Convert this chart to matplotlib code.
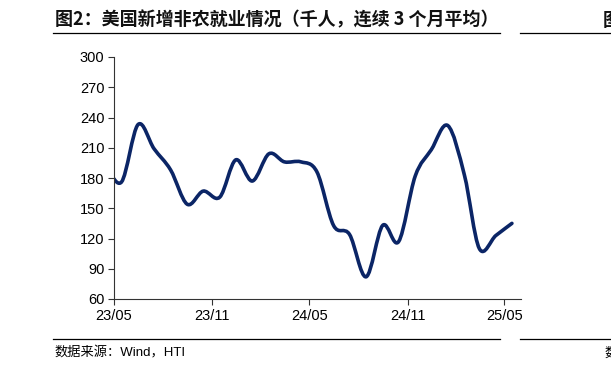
import matplotlib
matplotlib.use("Agg")
import matplotlib.pyplot as plt
import matplotlib.dates as mdates
from matplotlib.path import Path
from matplotlib.patches import PathPatch
from matplotlib.lines import Line2D
import numpy as np
import pandas as pd

plt.rcParams['font.family'] = ['Liberation Sans', 'Noto Sans CJK SC', 'DejaVu Sans']

# monthly 3-month average of nonfarm payrolls (thousands), 2023/04 .. 2025/05
months = ["2023-04", "2023-05", "2023-06", "2023-07", "2023-08", "2023-09", "2023-10",
          "2023-11", "2023-12", "2024-01", "2024-02", "2024-03", "2024-04", "2024-05",
          "2024-06", "2024-07", "2024-08", "2024-09", "2024-10", "2024-11", "2024-12",
          "2025-01", "2025-02", "2025-03", "2025-04", "2025-05"]
payrolls = [194, 176, 233, 209, 188, 154, 167, 161, 198, 177, 204, 196, 196, 186,
            133, 124, 82, 133, 117, 182, 208, 232, 183, 110, 123, 135]
tick_months = ["2023-05", "2023-11", "2024-05", "2024-11", "2025-05"]
y_ticks = [60, 90, 120, 150, 180, 210, 240, 270, 300]

title = "图2：美国新增非农就业情况（千人，连续 3 个月平均）"
source = "数据来源：Wind，HTI"
navy = "#0b2566"


def smooth_path(x, y):
    # Catmull-Rom spline written as cubic bezier segments (like Excel smoothed lines)
    x = np.asarray(x, float)
    y = np.asarray(y, float)
    verts = [(x[0], y[0])]
    codes = [Path.MOVETO]
    n = len(x)
    for i in range(n - 1):
        x0, y0 = (x[i - 1], y[i - 1]) if i > 0 else (x[i], y[i])
        x3, y3 = (x[i + 2], y[i + 2]) if i + 2 < n else (x[i + 1], y[i + 1])
        c1 = (x[i] + (x[i + 1] - x0) / 6, y[i] + (y[i + 1] - y0) / 6)
        c2 = (x[i + 1] - (x3 - x[i]) / 6, y[i + 1] - (y3 - y[i]) / 6)
        verts += [c1, c2, (x[i + 1], y[i + 1])]
        codes += [Path.CURVE4] * 3
    return Path(verts, codes)


dates = pd.to_datetime(months) + pd.Timedelta(days=14)
xnum = mdates.date2num(dates)

fig = plt.figure(figsize=(6.11, 3.73), dpi=100)
ax = fig.add_axes([114 / 611, 1 - 299 / 373, (521 - 114) / 611, (299 - 57) / 373])

ax.add_patch(PathPatch(smooth_path(xnum, payrolls), fill=False, edgecolor=navy,
                       linewidth=2.6, capstyle='round', joinstyle='round'))

ax.set_xlim(mdates.date2num(pd.Timestamp("2023-05-01")), mdates.date2num(pd.Timestamp("2025-06-01")))
ax.set_ylim(60, 300)
ax.set_yticks(y_ticks)
ax.set_xticks(mdates.date2num(pd.to_datetime(tick_months)))
ax.xaxis.set_major_formatter(mdates.DateFormatter('%y/%m'))

for s in ['top', 'right']:
    ax.spines[s].set_visible(False)
for s in ['left', 'bottom']:
    ax.spines[s].set_color('#333333')
    ax.spines[s].set_linewidth(0.8)
ax.tick_params(axis='both', direction='out', length=4, width=0.8, color='#333333',
               labelsize=10.5, labelcolor='black', pad=3)

# title and rules (the neighbouring chart's title/source peek in at the right edge)
fig.text(55 / 611, 1 - 20 / 373, title, fontsize=13, fontweight='bold',
         family=['Noto Sans CJK SC', 'DejaVu Sans'], va='center', ha='left', color='#111111')
fig.add_artist(Line2D([53 / 611, 500 / 611], [1 - 32.5 / 373] * 2, color='black', lw=0.9))
fig.add_artist(Line2D([520 / 611, 1.0], [1 - 32.5 / 373] * 2, color='black', lw=0.9))
fig.text(603 / 611, 1 - 20 / 373, "图", fontsize=13, fontweight='bold',
         family=['Noto Sans CJK SC', 'DejaVu Sans'], va='center', ha='left', color='#111111')

fig.add_artist(Line2D([53 / 611, 500 / 611], [1 - 339 / 373] * 2, color='black', lw=0.9))
fig.add_artist(Line2D([520 / 611, 1.0], [1 - 339 / 373] * 2, color='black', lw=0.9))
fig.text(54 / 611, 1 - 353 / 373, source, fontsize=9.5,
         family=['Liberation Sans', 'Noto Sans CJK SC', 'DejaVu Sans'],
         va='center', ha='left', color='black')
fig.text(604 / 611, 1 - 353 / 373, "数", fontsize=9.5,
         family=['Noto Sans CJK SC', 'DejaVu Sans'], va='center', ha='left', color='black')

fig.savefig("out.png", dpi=100)
